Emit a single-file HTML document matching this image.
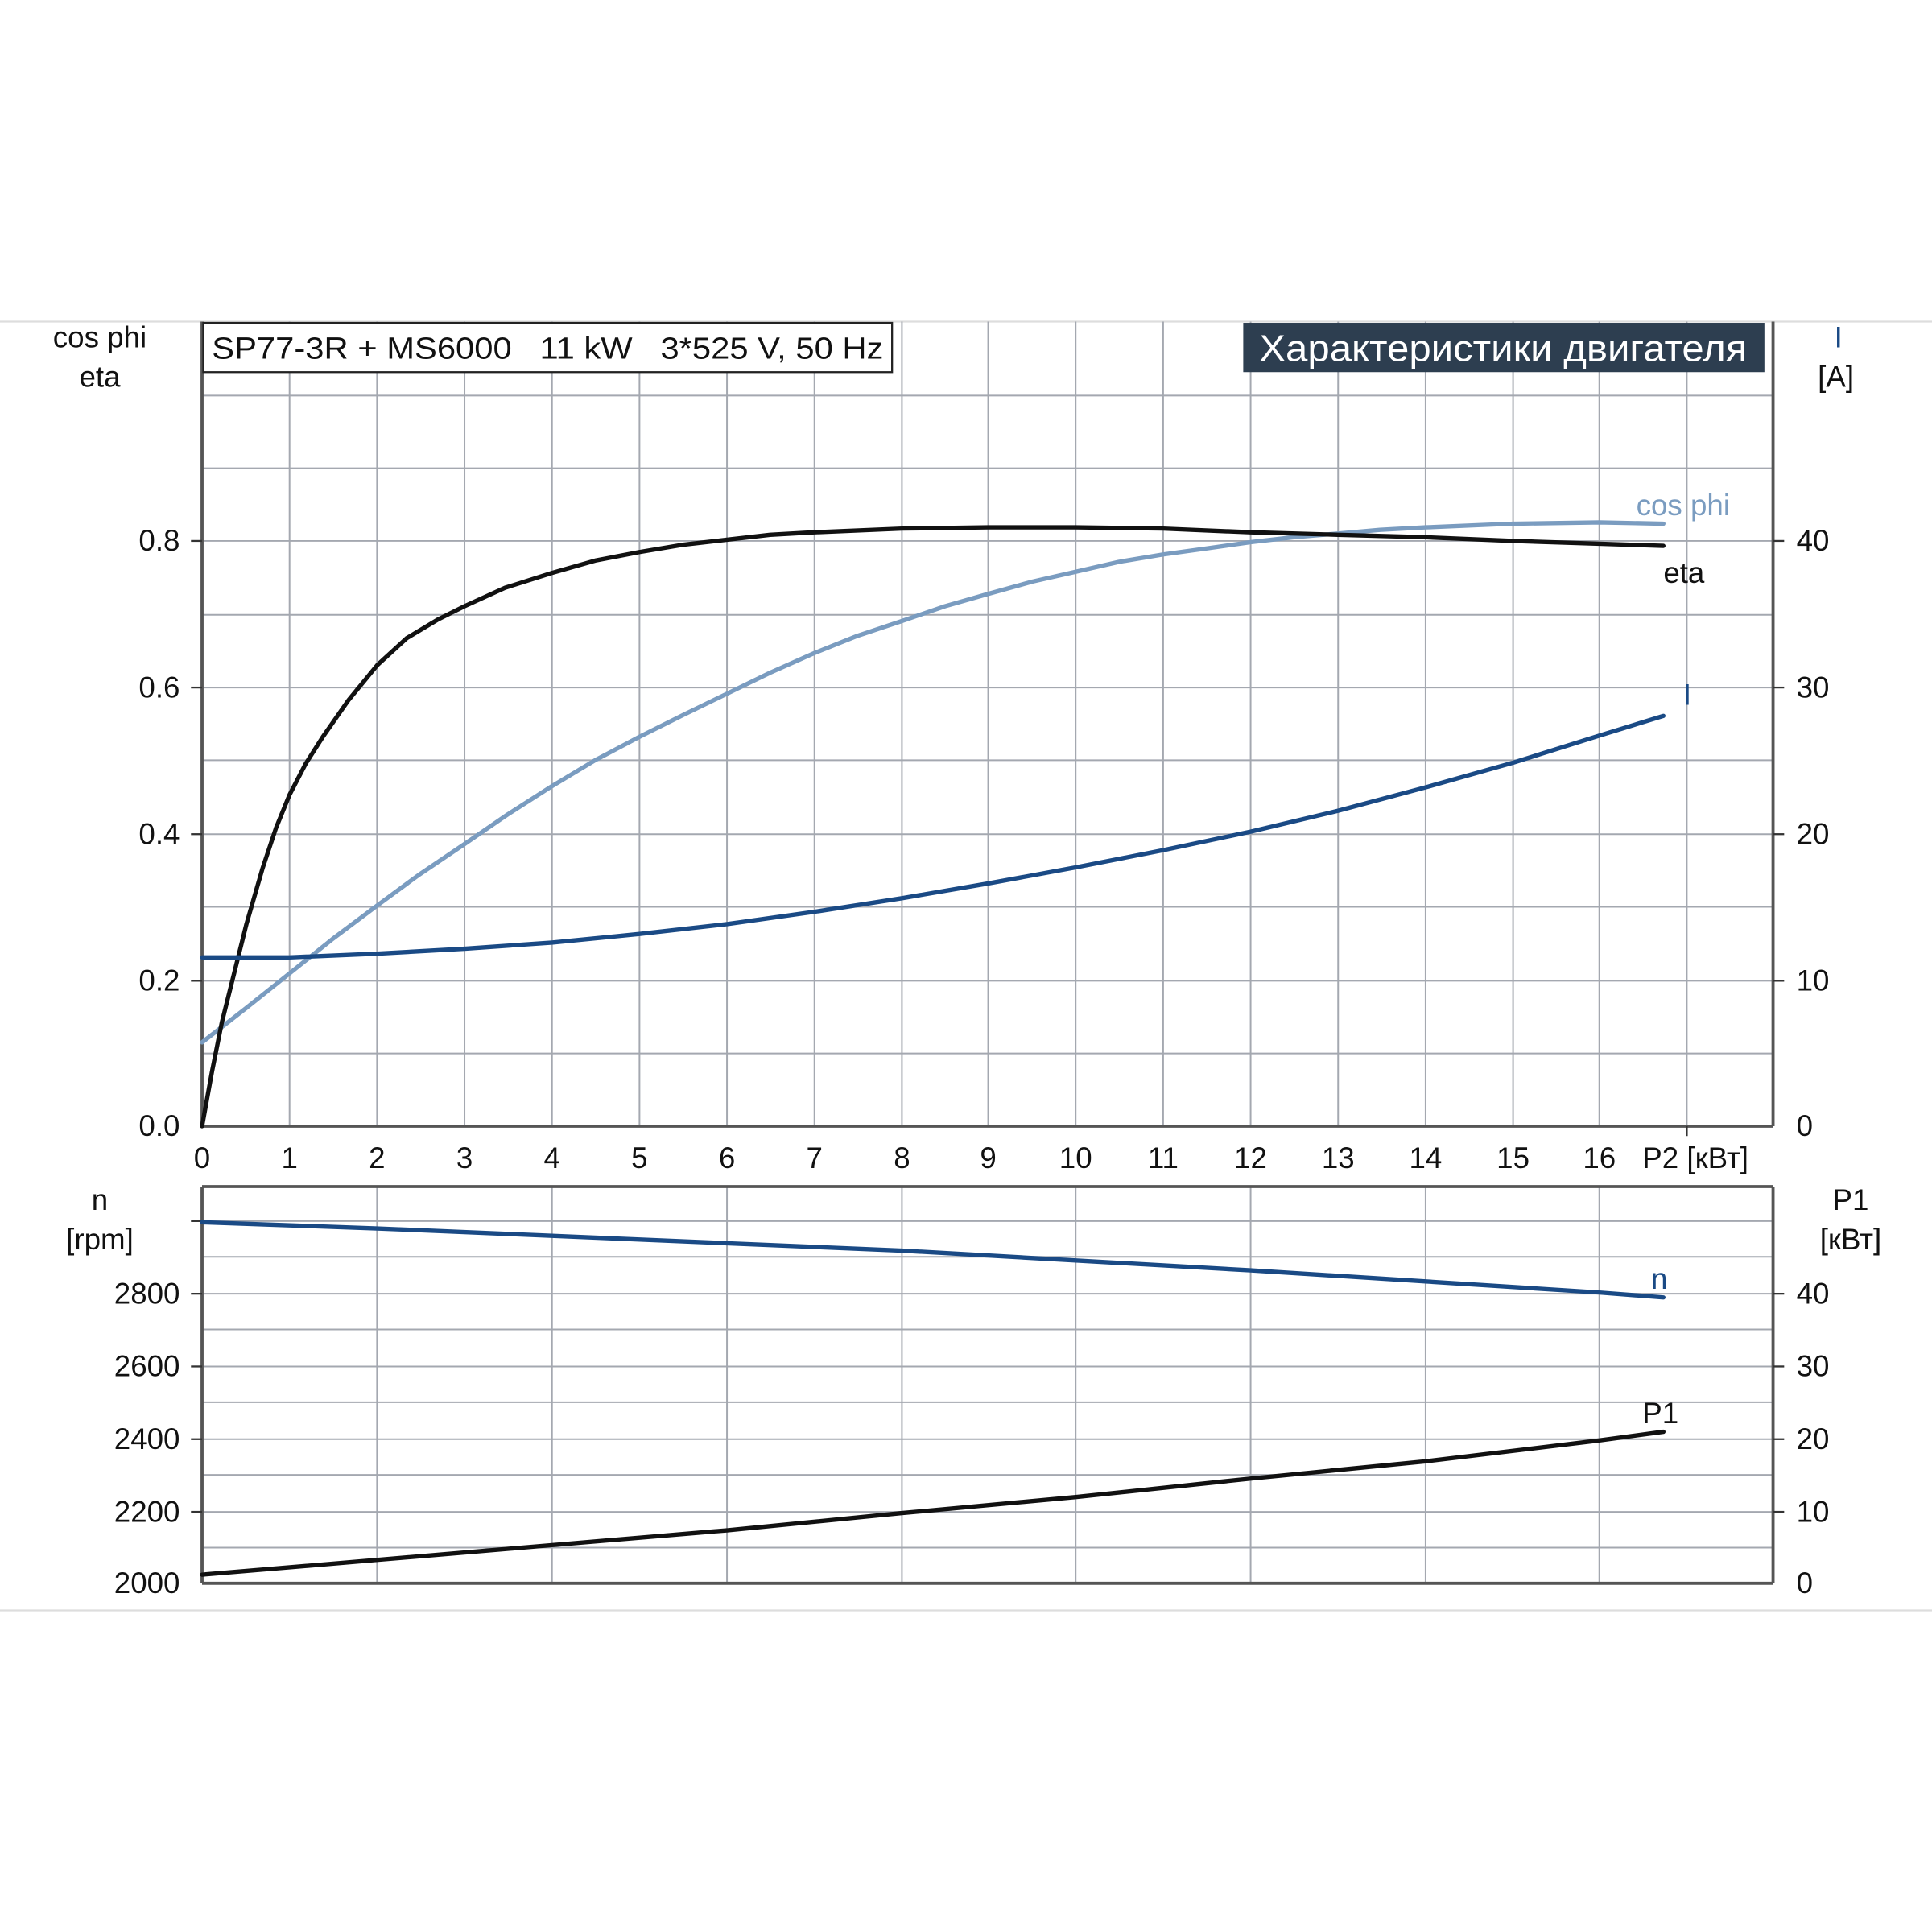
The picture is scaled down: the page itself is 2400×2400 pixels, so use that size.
<!DOCTYPE html>
<html><head><meta charset="utf-8"><style>html,body{margin:0;padding:0;background:#fff}svg{display:block}</style></head>
<body>
<svg width="2400" height="2400" viewBox="0 0 1568 1568" xmlns="http://www.w3.org/2000/svg" font-family="Liberation Sans, DejaVu Sans, sans-serif">
<rect width="1568" height="1568" fill="#fff"/>
<line x1="0" y1="261" x2="1568" y2="261" stroke="#ddd" stroke-width="1.5"/>
<line x1="0" y1="1307" x2="1568" y2="1307" stroke="#ddd" stroke-width="1.5"/>
<g stroke="#a4a8b0" stroke-width="1.3">
<line x1="235" y1="261" x2="235" y2="914"/><line x1="306" y1="261" x2="306" y2="914"/><line x1="377" y1="261" x2="377" y2="914"/><line x1="448" y1="261" x2="448" y2="914"/><line x1="519" y1="261" x2="519" y2="914"/><line x1="590" y1="261" x2="590" y2="914"/><line x1="661" y1="261" x2="661" y2="914"/><line x1="732" y1="261" x2="732" y2="914"/><line x1="802" y1="261" x2="802" y2="914"/><line x1="873" y1="261" x2="873" y2="914"/><line x1="944" y1="261" x2="944" y2="914"/><line x1="1015" y1="261" x2="1015" y2="914"/><line x1="1086" y1="261" x2="1086" y2="914"/><line x1="1157" y1="261" x2="1157" y2="914"/><line x1="1228" y1="261" x2="1228" y2="914"/><line x1="1298" y1="261" x2="1298" y2="914"/><line x1="1369" y1="261" x2="1369" y2="914"/>
<line x1="164" y1="855" x2="1439" y2="855"/><line x1="164" y1="796" x2="1439" y2="796"/><line x1="164" y1="736" x2="1439" y2="736"/><line x1="164" y1="677" x2="1439" y2="677"/><line x1="164" y1="617" x2="1439" y2="617"/><line x1="164" y1="558" x2="1439" y2="558"/><line x1="164" y1="499" x2="1439" y2="499"/><line x1="164" y1="439" x2="1439" y2="439"/><line x1="164" y1="380" x2="1439" y2="380"/><line x1="164" y1="321" x2="1439" y2="321"/>
<line x1="306" y1="963" x2="306" y2="1285"/><line x1="448" y1="963" x2="448" y2="1285"/><line x1="590" y1="963" x2="590" y2="1285"/><line x1="732" y1="963" x2="732" y2="1285"/><line x1="873" y1="963" x2="873" y2="1285"/><line x1="1015" y1="963" x2="1015" y2="1285"/><line x1="1157" y1="963" x2="1157" y2="1285"/><line x1="1298" y1="963" x2="1298" y2="1285"/>
<line x1="164" y1="1256" x2="1439" y2="1256"/><line x1="164" y1="1227" x2="1439" y2="1227"/><line x1="164" y1="1197" x2="1439" y2="1197"/><line x1="164" y1="1168" x2="1439" y2="1168"/><line x1="164" y1="1138" x2="1439" y2="1138"/><line x1="164" y1="1109" x2="1439" y2="1109"/><line x1="164" y1="1079" x2="1439" y2="1079"/><line x1="164" y1="1050" x2="1439" y2="1050"/><line x1="164" y1="1020" x2="1439" y2="1020"/><line x1="164" y1="991" x2="1439" y2="991"/>
</g>
<g stroke="#555" stroke-width="2.5" fill="none">
<line x1="164" y1="261" x2="164" y2="914"/><line x1="1439" y1="261" x2="1439" y2="914"/><line x1="164" y1="914" x2="1439" y2="914"/>
<line x1="164" y1="963" x2="164" y2="1285"/><line x1="1439" y1="963" x2="1439" y2="1285"/><line x1="164" y1="1285" x2="1439" y2="1285"/><line x1="164" y1="963" x2="1439" y2="963"/>
</g>
<g stroke="#333" stroke-width="1.5">
<line x1="155" y1="439" x2="164" y2="439"/><line x1="155" y1="558" x2="164" y2="558"/><line x1="155" y1="677" x2="164" y2="677"/><line x1="155" y1="796" x2="164" y2="796"/>
<line x1="1439" y1="439" x2="1448" y2="439"/><line x1="1439" y1="558" x2="1448" y2="558"/><line x1="1439" y1="677" x2="1448" y2="677"/><line x1="1439" y1="796" x2="1448" y2="796"/>
<line x1="155" y1="1050" x2="164" y2="1050"/><line x1="155" y1="1109" x2="164" y2="1109"/><line x1="155" y1="1168" x2="164" y2="1168"/><line x1="155" y1="1227" x2="164" y2="1227"/><line x1="155" y1="991" x2="164" y2="991"/>
<line x1="1439" y1="1050" x2="1448" y2="1050"/><line x1="1439" y1="1109" x2="1448" y2="1109"/><line x1="1439" y1="1168" x2="1448" y2="1168"/><line x1="1439" y1="1227" x2="1448" y2="1227"/>
<line x1="1369" y1="914" x2="1369" y2="922"/>
</g>
<rect x="165" y="262" width="559" height="40" fill="#fff" stroke="#222" stroke-width="1.5"/>
<text x="172" y="291" font-size="25" fill="#111" xml:space="preserve" textLength="545" lengthAdjust="spacingAndGlyphs">SP77-3R + MS6000   11 kW   3*525 V, 50 Hz</text>
<rect x="1009" y="262" width="423" height="40" fill="#2d3e50"/>
<text x="1220" y="293" font-size="30" fill="#fff" text-anchor="middle" textLength="396" lengthAdjust="spacingAndGlyphs">Характеристики двигателя</text>
<g fill="none" stroke-width="3.5" stroke-linecap="round" stroke-linejoin="round">
<path stroke="#7a9cc0" d="M164,846 L200,818 L235,790 L270,762 L306,735 L340,710 L377,685 L412,661 L448,638 L483,617 L519,598 L555,580 L590,563 L625,546 L661,530 L696,516 L732,504 L767,492 L802,482 L838,472 L873,464 L908,456 L944,450 L980,445 L1015,440 L1050,436 L1086,433 L1120,430 L1157,428 L1228,425 L1298,424 L1350,425"/>
<path stroke="#111" d="M164,914 L172,870 L180,830 L190,790 L200,750 L213,705 L224,672 L235,645 L248,620 L262,598 L283,568 L306,540 L330,518 L355,503 L377,492 L410,477 L448,465 L483,455 L519,448 L555,442 L590,438 L625,434 L661,432 L732,429 L802,428 L873,428 L944,429 L1015,432 L1086,434 L1157,436 L1228,439 L1350,443"/>
<path stroke="#1a4a85" d="M164,777 L235,777 L306,774 L377,770 L448,765 L519,758 L590,750 L661,740 L732,729 L802,717 L873,704 L944,690 L1015,675 L1086,658 L1157,639 L1228,619 L1298,597 L1350,581"/>
<path stroke="#1a4a85" d="M164,992 L306,997 L448,1003 L590,1009 L732,1015 L873,1023 L1015,1031 L1157,1040 L1298,1049 L1350,1053"/>
<path stroke="#111" d="M164,1278 L306,1266 L448,1254 L590,1242 L732,1228 L873,1215 L1015,1200 L1157,1186 L1298,1169 L1350,1162"/>
</g>
<g font-size="24" fill="#111">
<text x="81" y="282" text-anchor="middle">cos phi</text>
<text x="81" y="314" text-anchor="middle">eta</text>
<text x="1492" y="282" text-anchor="middle" fill="#1a4a85">I</text>
<text x="1490" y="314" text-anchor="middle">[A]</text>
<g text-anchor="end"><text x="146" y="447">0.8</text><text x="146" y="566">0.6</text><text x="146" y="685">0.4</text><text x="146" y="804">0.2</text><text x="146" y="922">0.0</text></g>
<g><text x="1458" y="447">40</text><text x="1458" y="566">30</text><text x="1458" y="685">20</text><text x="1458" y="804">10</text><text x="1458" y="922">0</text></g>
<g text-anchor="middle"><text x="164" y="948">0</text><text x="235" y="948">1</text><text x="306" y="948">2</text><text x="377" y="948">3</text><text x="448" y="948">4</text><text x="519" y="948">5</text><text x="590" y="948">6</text><text x="661" y="948">7</text><text x="732" y="948">8</text><text x="802" y="948">9</text><text x="873" y="948">10</text><text x="944" y="948">11</text><text x="1015" y="948">12</text><text x="1086" y="948">13</text><text x="1157" y="948">14</text><text x="1228" y="948">15</text><text x="1298" y="948">16</text></g>
<text x="1333" y="948">P2 [кВт]</text>
<text x="1328" y="418" fill="#7a9cc0">cos phi</text>
<text x="1350" y="473">eta</text>
<text x="1366" y="572" fill="#1a4a85">I</text>
<text x="1340" y="1046" fill="#1a4a85">n</text>
<text x="1333" y="1155">P1</text>
<text x="81" y="982" text-anchor="middle">n</text>
<text x="81" y="1014" text-anchor="middle">[rpm]</text>
<text x="1502" y="982" text-anchor="middle">P1</text>
<text x="1502" y="1014" text-anchor="middle">[кВт]</text>
<g text-anchor="end"><text x="146" y="1058">2800</text><text x="146" y="1117">2600</text><text x="146" y="1176">2400</text><text x="146" y="1235">2200</text><text x="146" y="1293">2000</text></g>
<g><text x="1458" y="1058">40</text><text x="1458" y="1117">30</text><text x="1458" y="1176">20</text><text x="1458" y="1235">10</text><text x="1458" y="1293">0</text></g>
</g>
</svg>
</body></html>
